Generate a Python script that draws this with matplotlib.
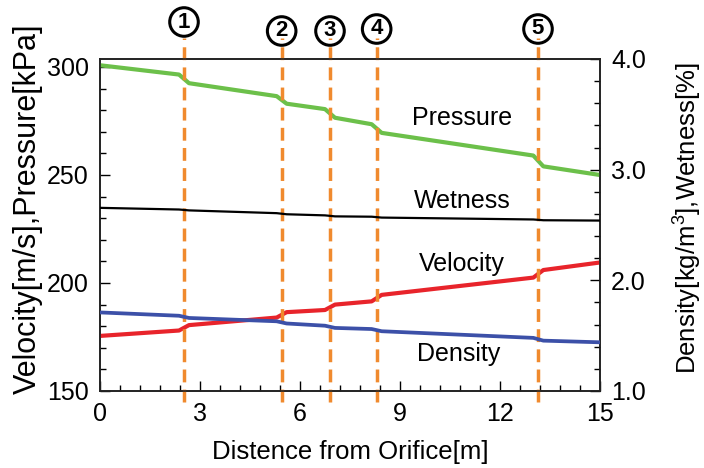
import matplotlib
matplotlib.use("Agg")
import matplotlib.pyplot as plt
import matplotlib.transforms as mtransforms
from matplotlib.ticker import MultipleLocator

plt.rcParams['font.family'] = ['Liberation Sans', 'DejaVu Sans']
plt.rcParams['mathtext.fontset'] = 'custom'
plt.rcParams['mathtext.rm'] = 'Liberation Sans'
plt.rcParams['mathtext.it'] = 'Liberation Sans'

# --- Daten ---
dist = [0, 2.37, 2.67, 5.3, 5.6, 6.75, 7.05, 8.15, 8.45, 13.0, 13.3, 15]
pressure = [300.8, 296.5, 292.5, 286.5, 283, 280.5, 276.5, 273.5, 269.5, 259, 254, 250]
velocity = [175.5, 178, 180.5, 184, 186.5, 187.5, 190, 191.5, 194.5, 202.5, 206, 209.5]
density = [1.71, 1.68, 1.66, 1.63, 1.61, 1.59, 1.57, 1.56, 1.54, 1.48, 1.455, 1.44]
wetness = [2.655, 2.64, 2.632, 2.607, 2.597, 2.587, 2.578, 2.575, 2.567, 2.55, 2.543, 2.54]

marker_x = [2.52, 5.45, 6.9, 8.3, 13.14]
marker_lbl = ['1', '2', '3', '4', '5']

fig = plt.figure(figsize=(7.04, 4.68), dpi=100)
ax = fig.add_axes([100/704, 1-391/468, 500/704, 332/468])
ax2 = ax.twinx()

# Linien
ax.plot(dist, pressure, color='#6cc04a', lw=3, solid_capstyle='butt', zorder=3)
ax.plot(dist, velocity, color='#e8242b', lw=3, solid_capstyle='butt', zorder=3)
ax2.plot(dist, density, color='#3c50a8', lw=2.7, solid_capstyle='butt', zorder=3)
ax2.plot(dist, wetness, color='black', lw=1.6, zorder=3)

# Achsen
ax.set_xlim(0, 15)
ax.set_ylim(150, 303.7)
ax2.set_ylim(1.0, 4.0)
ax.xaxis.set_major_locator(MultipleLocator(3))
ax.xaxis.set_minor_locator(MultipleLocator(0.6))
ax.yaxis.set_major_locator(MultipleLocator(50))
ax.yaxis.set_minor_locator(MultipleLocator(10))
ax2.yaxis.set_minor_locator(MultipleLocator(0.2))
ax2.set_yticks([1, 2, 3, 4])
ax2.set_yticklabels(['1.0', '2.0', '3.0', '4.0'])

for a in (ax, ax2):
    a.tick_params(which='major', direction='in', length=7, width=1, labelsize=18, pad=8)
    a.tick_params(which='minor', direction='in', length=4, width=1)
    for s in a.spines.values():
        s.set_linewidth(1.2)
        s.set_color('#222222')
ax.tick_params(axis='y', which='both', right=False)
ax.tick_params(axis='x', which='both', top=False)

ax.set_xlabel('Distence from Orifice[m]', fontsize=18.5, labelpad=10)
ax.set_ylabel('Velocity[m/s],Pressure[kPa]', fontsize=22)
ax.yaxis.set_label_coords(-0.114, 0.55)
ax2.set_ylabel('Density[kg/m$^3$],Wetness[%]', fontsize=18.5)
ax2.yaxis.set_label_coords(1.143, 0.52)

# gestrichelte Markierungen
for xm in marker_x:
    ax.axvline(xm, ymin=-0.033, ymax=1.062, color='#f08a2e', lw=2.5,
               dashes=(3.7, 2.1), clip_on=False, zorder=4)

# eingekreiste Nummern
trans = mtransforms.blended_transform_factory(ax.transData, fig.transFigure)
marker_y = [22, 31, 31, 29, 29]
for xm, lbl, yp in zip(marker_x, marker_lbl, marker_y):
    ax.text(xm, 1 - yp/468, lbl, transform=trans, ha='center', va='center',
            fontsize=16, fontweight='bold',
            bbox=dict(boxstyle='circle,pad=0.17', fc='white', ec='black', lw=2.2))

# Beschriftungen der Kurven
ax.text(10.86, 276.4, 'Pressure', fontsize=18, ha='center', va='center')
ax.text(10.86, 238, 'Wetness', fontsize=18, ha='center', va='center')
ax.text(10.86, 208.6, 'Velocity', fontsize=18, ha='center', va='center')
ax.text(10.75, 167, 'Density', fontsize=18, ha='center', va='center')

fig.savefig('out.png', dpi=100)
